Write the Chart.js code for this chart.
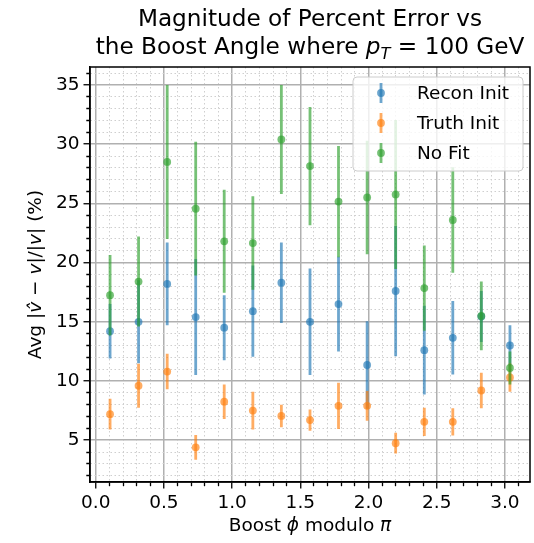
<!DOCTYPE html>
<html>
<head>
<meta charset="utf-8">
<script src="https://cdn.jsdelivr.net/npm/chart.js@4.4.0/dist/chart.umd.min.js"></script>
<style>
  html, body { margin: 0; padding: 0; background: #fff; }
  #wrap { width: 534px; height: 543px; }
</style>
</head>
<body>
<div id="wrap"><canvas id="errChart"></canvas></div>
<script>
// bin centres of boost phi (mod pi)
const boostPhi = [0.105, 0.314, 0.524, 0.733, 0.942, 1.152, 1.361, 1.571, 1.780, 1.990, 2.199, 2.409, 2.618, 2.827, 3.037];

// average percent error and its spread, per series
const reconInit    = [14.2, 15.0, 18.2, 15.4, 14.5, 15.9, 18.3, 15.0, 16.5, 11.35, 17.6, 12.6, 13.65, 15.45, 13.0];
const reconInitErr = [2.3, 3.5, 3.5, 4.9, 2.75, 3.85, 3.4, 4.5, 4.0, 3.7, 5.5, 3.75, 3.1, 2.15, 1.7];

const truthInit    = [7.2, 9.6, 10.8, 4.4, 8.25, 7.5, 7.05, 6.7, 7.9, 7.9, 4.75, 6.55, 6.55, 9.2, 10.3];
const truthInitErr = [1.3, 1.85, 1.5, 1.05, 1.45, 1.6, 0.95, 0.9, 1.95, 1.25, 0.87, 1.2, 1.15, 1.5, 1.2];

const noFit    = [17.25, 18.4, 28.5, 24.55, 21.8, 21.65, 30.4, 28.15, 25.15, 25.5, 25.75, 17.85, 23.6, 15.5, 11.1];
const noFitErr = [3.4, 3.8, 6.5, 5.65, 4.35, 3.95, 4.6, 5.0, 4.7, 4.8, 6.3, 3.6, 4.45, 2.9, 1.4];

const seriesNames = ["Recon Init", "Truth Init", "No Fit"];
const xTickLabels = ["0.0", "0.5", "1.0", "1.5", "2.0", "2.5", "3.0"];
const yTickLabels = ["5", "10", "15", "20", "25", "30", "35"];

const FONT = "DejaVu Sans";
const COLORS = ["rgba(31,119,180,0.65)", "rgba(255,127,14,0.65)", "rgba(44,160,44,0.65)"];

function near(v, step) {
  return Math.abs(v / step - Math.round(v / step)) < 1e-6;
}

// vertical segments (lo -> hi) separated by gaps
function errorSegments(xs, ys, errs) {
  const pts = [];
  xs.forEach((x, i) => {
    pts.push({ x: x, y: ys[i] - errs[i] });
    pts.push({ x: x, y: ys[i] + errs[i] });
    pts.push({ x: x, y: null });
  });
  return pts;
}

function points(xs, ys) {
  return xs.map((x, i) => ({ x: x, y: ys[i] }));
}

const allY = [reconInit, truthInit, noFit];
const allErr = [reconInitErr, truthInitErr, noFitErr];
const datasets = [];
seriesNames.forEach((name, k) => {
  datasets.push({
    type: "line",
    label: name + " err",
    data: errorSegments(boostPhi, allY[k], allErr[k]),
    borderColor: COLORS[k],
    borderWidth: 2.8,
    borderCapStyle: "butt",
    pointRadius: 0,
    spanGaps: false,
    fill: false,
    order: 5 - 2 * k
  });
  datasets.push({
    type: "scatter",
    label: name,
    data: points(boostPhi, allY[k]),
    backgroundColor: COLORS[k],
    borderWidth: 0,
    pointRadius: 3.9,
    order: 4 - 2 * k
  });
});

// draws a string made of plain / italic / subscript pieces
function drawRich(ctx, parts, x, y, size, align) {
  const fontOf = p => (p.it ? "italic " : "") + (p.sub ? size * 0.7 : size) + "px '" + FONT + "'";
  let total = 0;
  const widths = parts.map(p => {
    ctx.font = fontOf(p);
    const w = ctx.measureText(p.t).width;
    total += w;
    return w;
  });
  let cx = align === "center" ? x - total / 2 : x;
  ctx.textAlign = "left";
  ctx.textBaseline = "alphabetic";
  parts.forEach((p, i) => {
    ctx.font = fontOf(p);
    ctx.fillText(p.t, cx, p.sub ? y + size * 0.22 : y);
    cx += widths[i];
  });
}

const decorPlugin = {
  id: "decor",
  afterDraw(chart) {
    const ctx = chart.ctx;
    const a = chart.chartArea;
    ctx.save();
    // axes box
    ctx.strokeStyle = "#000";
    ctx.lineWidth = 1.5;
    ctx.strokeRect(a.left, a.top, a.right - a.left, a.bottom - a.top);

    ctx.fillStyle = "#000";
    const midX = (a.left + a.right) / 2;
    drawRich(ctx, [{ t: "Magnitude of Percent Error vs" }], midX, 26, 23.2, "center");
    drawRich(ctx, [
      { t: "the Boost Angle where " },
      { t: "p", it: 1 }, { t: "T", it: 1, sub: 1 },
      { t: " = 100 GeV" }
    ], midX, 54, 23.2, "center");

    drawRich(ctx, [
      { t: "Boost " }, { t: "\u03D5", it: 1 }, { t: " modulo " }, { t: "\u03C0", it: 1 }
    ], midX, 531, 18.5, "center");

    ctx.save();
    ctx.translate(41, (a.top + a.bottom) / 2);
    ctx.rotate(-Math.PI / 2);
    drawRich(ctx, [
      { t: "Avg |" }, { t: "v\u0302", it: 1 }, { t: " \u2212 " }, { t: "v", it: 1 },
      { t: "|/|" }, { t: "v", it: 1 }, { t: "| (%)" }
    ], 0, 0, 18.5, "center");
    ctx.restore();

    // legend box
    const lx = 353, ly = 77, lw = 170, lh = 94, r = 4;
    ctx.beginPath();
    ctx.moveTo(lx + r, ly);
    ctx.arcTo(lx + lw, ly, lx + lw, ly + lh, r);
    ctx.arcTo(lx + lw, ly + lh, lx, ly + lh, r);
    ctx.arcTo(lx, ly + lh, lx, ly, r);
    ctx.arcTo(lx, ly, lx + lw, ly, r);
    ctx.closePath();
    ctx.fillStyle = "rgba(255,255,255,0.8)";
    ctx.fill();
    ctx.strokeStyle = "#cccccc";
    ctx.lineWidth = 1;
    ctx.stroke();

    seriesNames.forEach((name, k) => {
      const ry = 93 + k * 30;
      ctx.strokeStyle = COLORS[k];
      ctx.lineWidth = 2.8;
      ctx.beginPath();
      ctx.moveTo(381, ry - 10);
      ctx.lineTo(381, ry + 10);
      ctx.stroke();
      ctx.fillStyle = COLORS[k];
      ctx.beginPath();
      ctx.arc(381, ry, 3.9, 0, Math.PI * 2);
      ctx.fill();
      ctx.fillStyle = "#000";
      ctx.font = "18.5px '" + FONT + "'";
      ctx.textAlign = "left";
      ctx.textBaseline = "middle";
      ctx.fillText(name, 417, ry + 1);
    });
    ctx.restore();
  }
};

const tickFont = { family: FONT, size: 18.5 };

new Chart(document.getElementById("errChart"), {
  type: "scatter",
  data: { datasets: datasets },
  plugins: [decorPlugin],
  options: {
    responsive: true,
    maintainAspectRatio: false,
    devicePixelRatio: 1,
    animation: false,
    layout: { padding: { top: 67, right: 3, left: 0, bottom: 0 } },
    plugins: { legend: { display: false }, title: { display: false }, tooltip: { enabled: false } },
    scales: {
      x: {
        type: "linear",
        min: -0.042,
        max: 3.184,
        afterFit: s => { s.height = 61; },
        ticks: {
          stepSize: 0.1,
          includeBounds: false,
          autoSkip: false,
          maxRotation: 0,
          maxTicksLimit: 100,
          padding: 4,
          color: "#000",
          font: tickFont,
          callback: v => {
            const lab = xTickLabels.find(t => Math.abs(parseFloat(t) - v) < 1e-6);
            return lab || "";
          }
        },
        grid: {
          color: c => near(c.tick.value, 0.5) ? "#b0b0b0" : "#cfcfcf",
          lineWidth: c => near(c.tick.value, 0.5) ? 1.5 : 1,
          tickColor: "#000",
          tickLength: 6.5,
          tickWidth: 1.3,
          // minor ticks: only the half next to the axis line
          tickBorderDash: c => near(c.tick.value, 0.5) ? [] : [3.7, 100]
        },
        border: {
          display: true, color: "#000", width: 1.5,
          dash: c => (c.tick && !near(c.tick.value, 0.5)) ? [1.5, 2.5] : []
        }
      },
      y: {
        type: "linear",
        min: 1.47,
        max: 36.52,
        afterFit: s => { s.width = 90; },
        ticks: {
          stepSize: 1,
          includeBounds: false,
          autoSkip: false,
          maxTicksLimit: 100,
          padding: 4,
          color: "#000",
          font: tickFont,
          callback: v => yTickLabels.includes(String(v)) ? String(v) : ""
        },
        grid: {
          color: c => near(c.tick.value, 5) ? "#b0b0b0" : "#cfcfcf",
          lineWidth: c => near(c.tick.value, 5) ? 1.5 : 1,
          tickColor: "#000",
          tickLength: 6.5,
          tickWidth: 1.3,
          tickBorderDash: c => near(c.tick.value, 5) ? [] : [0, 2.8, 3.7, 100]
        },
        border: {
          display: true, color: "#000", width: 1.5,
          dash: c => (c.tick && !near(c.tick.value, 5)) ? [1.5, 2.5] : []
        }
      }
    }
  }
});
</script>
</body>
</html>
